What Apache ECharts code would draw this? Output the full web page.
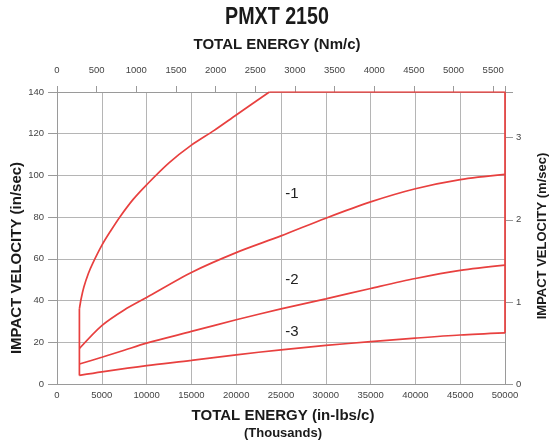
<!DOCTYPE html>
<html>
<head>
<meta charset="utf-8">
<script src="https://cdn.jsdelivr.net/npm/echarts@6/dist/echarts.min.js"></script>
<style>
html,body{margin:0;padding:0;background:#fff;}
#c{width:552px;height:441px;}
</style>
</head>
<body>
<div id="c"></div>
<script>
// Total energy in thousands of in-lbs/c, impact velocity in in/sec
const envelopeEnergy = [2500, 2700, 3000, 3500, 4000, 5000, 6000, 7000, 8500, 10000, 12500, 15000, 17500, 20000, 23700];
const envelopeVelocity = [36, 41, 46.5, 53, 58, 66.5, 73.5, 80, 88.5, 95.5, 106, 114.5, 121.5, 129, 140];
const boundaryEnergy = [2500, 2500];
const boundaryVelocity = [4.1, 36];
const outerEnergy = [23700, 50000, 50000];
const outerVelocity = [140, 140, 24.5];

const curve1Energy = [2500, 5000, 7500, 10000, 15000, 20000, 25000, 30000, 35000, 40000, 45000, 50000];
const curve1Velocity = [17, 28, 35.5, 41.5, 53.5, 63, 71, 79.5, 87.3, 93.6, 98, 100.5];
const curve2Energy = [2500, 5000, 7500, 10000, 15000, 20000, 25000, 30000, 35000, 40000, 45000, 50000];
const curve2Velocity = [9.6, 12.8, 16.2, 19.6, 25.2, 30.8, 36, 40.8, 45.8, 50.6, 54.5, 57];
const curve3Energy = [2500, 5000, 10000, 15000, 20000, 25000, 30000, 35000, 40000, 45000, 50000];
const curve3Velocity = [4.1, 5.8, 8.8, 11.3, 14, 16.4, 18.5, 20.3, 22, 23.5, 24.5];

const curveLabels = ['-1', '-2', '-3'];

const IN_LB_PER_NM = 8.8507;
const IN_PER_M = 39.37;
const energyMax = 50000;
const velocityMax = 140;

function pairs(xs, ys) { return xs.map((x, i) => [x, ys[i]]); }

const RED = '#e8403f';
const GRID = '#b5b5b5';
const AXIS = '#9a9a9a';
const LBL = '#444';
const FONT = '"Liberation Sans", Arial, sans-serif';

function lineSeries(data, smooth) {
  return {
    type: 'line', data: data, xAxisIndex: 0, yAxisIndex: 0,
    showSymbol: false, symbol: 'none', smooth: smooth,
    lineStyle: { color: RED, width: 1.7 }, silent: true, animation: false
  };
}

const chart = echarts.init(document.getElementById('c'), null, { renderer: 'canvas' });
chart.setOption({
  animation: false,
  backgroundColor: '#fff',
  grid: { left: 57, right: 47, top: 92, bottom: 57, containLabel: false },
  xAxis: [
    {
      type: 'value', position: 'bottom', min: 0, max: energyMax, interval: 5000,
      axisLine: { show: true, onZero: false, lineStyle: { color: AXIS, width: 1 } },
      axisTick: { show: false },
      axisLabel: { color: LBL, fontSize: 9.5, fontFamily: FONT, margin: 6, formatter: v => String(v) },
      splitLine: { show: true, lineStyle: { color: GRID, width: 1 } }
    },
    {
      type: 'value', position: 'top', min: 0, max: energyMax / IN_LB_PER_NM, interval: 500,
      axisLine: { show: true, onZero: false, lineStyle: { color: AXIS, width: 1 } },
      axisTick: { show: true, length: 6, lineStyle: { color: AXIS } },
      axisLabel: { color: LBL, fontSize: 9.5, fontFamily: FONT, margin: 17,
        formatter: v => (Math.abs(v % 500) < 1e-6 ? String(v) : '') },
      splitLine: { show: false }
    }
  ],
  yAxis: [
    {
      type: 'value', position: 'left', min: 0, max: velocityMax, interval: 20,
      axisLine: { show: true, onZero: false, lineStyle: { color: AXIS, width: 1 } },
      axisTick: { show: true, length: 9, lineStyle: { color: AXIS } },
      axisLabel: { color: LBL, fontSize: 9.5, fontFamily: FONT, margin: 13, formatter: v => String(v) },
      splitLine: { show: true, lineStyle: { color: GRID, width: 1 } }
    },
    {
      type: 'value', position: 'right', min: 0, max: velocityMax / IN_PER_M, interval: 1,
      axisLine: { show: true, onZero: false, lineStyle: { color: AXIS, width: 1 } },
      axisTick: { show: true, length: 8, lineStyle: { color: AXIS } },
      axisLabel: { color: LBL, fontSize: 9.5, fontFamily: FONT, margin: 11,
        formatter: v => (Math.abs(v - Math.round(v)) < 1e-6 ? String(v) : '') },
      splitLine: { show: false }
    }
  ],
  series: [
    lineSeries(pairs(boundaryEnergy, boundaryVelocity), false),
    lineSeries(pairs(envelopeEnergy, envelopeVelocity), 0.3),
    lineSeries(pairs(outerEnergy, outerVelocity), false),
    lineSeries(pairs(curve1Energy, curve1Velocity), 0.3),
    lineSeries(pairs(curve2Energy, curve2Velocity), 0.3),
    lineSeries(pairs(curve3Energy, curve3Velocity), 0.3)
  ],
  graphic: [
    { type: 'text', x: 277, y: 17, scaleX: 0.82, originX: 0, originY: 0, style: { text: 'PMXT 2150', fill: '#1a1a1a', align: 'center', verticalAlign: 'middle',
      font: 'bold 24px ' + FONT } },
    { type: 'text', x: 277, y: 45, style: { text: 'TOTAL ENERGY (Nm/c)', fill: '#1a1a1a', align: 'center', verticalAlign: 'middle',
      font: 'bold 15px ' + FONT } },
    { type: 'text', x: 283, y: 416, style: { text: 'TOTAL ENERGY (in-lbs/c)', fill: '#1a1a1a', align: 'center', verticalAlign: 'middle',
      font: 'bold 15px ' + FONT } },
    { type: 'text', x: 283, y: 433, style: { text: '(Thousands)', fill: '#1a1a1a', align: 'center', verticalAlign: 'middle',
      font: 'bold 13px ' + FONT } },
    { type: 'text', x: 17, y: 258, rotation: Math.PI / 2, style: { text: 'IMPACT VELOCITY (in/sec)', fill: '#1a1a1a', align: 'center', verticalAlign: 'middle',
      font: 'bold 15px ' + FONT } },
    { type: 'text', x: 542, y: 236, rotation: Math.PI / 2, style: { text: 'IMPACT VELOCITY (m/sec)', fill: '#1a1a1a', align: 'center', verticalAlign: 'middle',
      font: 'bold 13px ' + FONT } },
    { type: 'text', x: 292, y: 194, style: { text: curveLabels[0], fill: '#222', align: 'center', verticalAlign: 'middle', font: '15px ' + FONT } },
    { type: 'text', x: 292, y: 280, style: { text: curveLabels[1], fill: '#222', align: 'center', verticalAlign: 'middle', font: '15px ' + FONT } },
    { type: 'text', x: 292, y: 332, style: { text: curveLabels[2], fill: '#222', align: 'center', verticalAlign: 'middle', font: '15px ' + FONT } }
  ]
});
</script>
</body>
</html>
